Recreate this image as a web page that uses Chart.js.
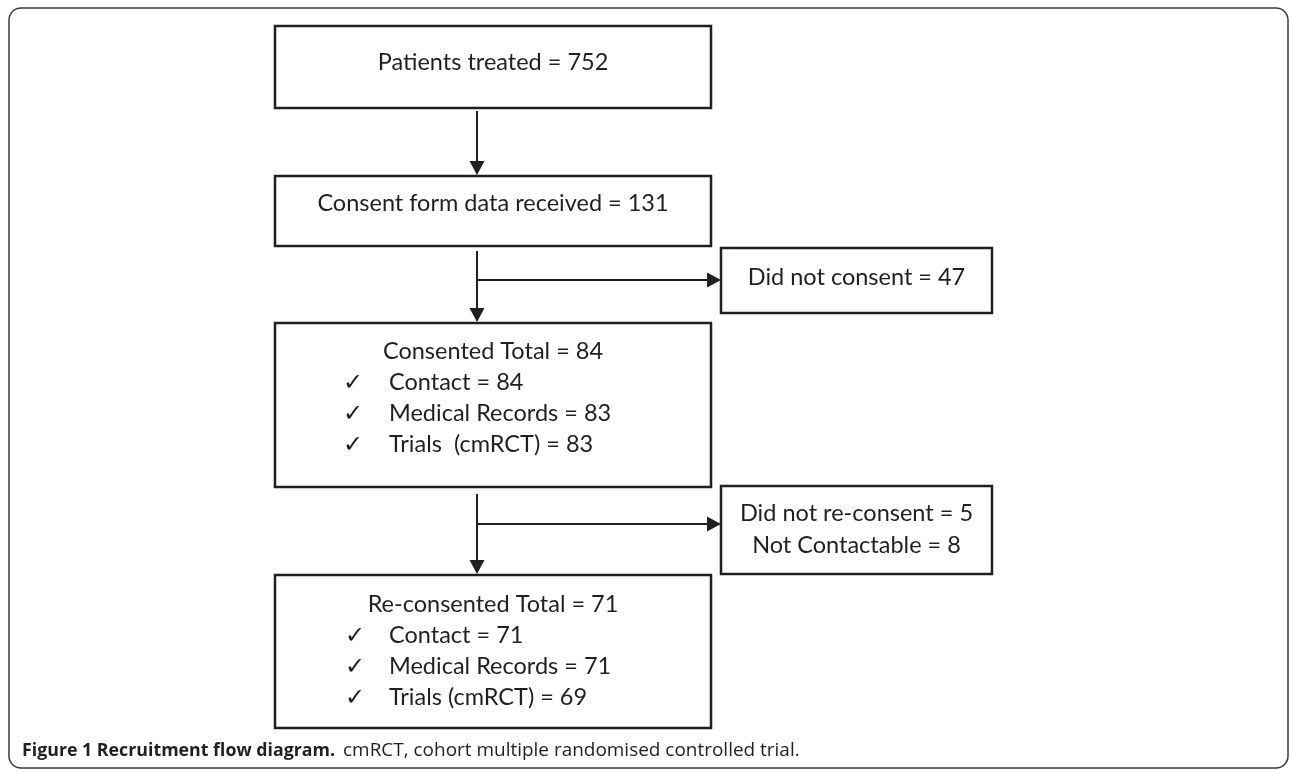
<!DOCTYPE html>
<html>
<head>
<meta charset="utf-8">
<script src="https://cdn.jsdelivr.net/npm/chart.js@4/dist/chart.umd.min.js"></script>
<style>
  html, body { margin: 0; padding: 0; background: #fff; }
  #wrap { position: relative; width: 1290px; height: 773px; overflow: hidden; }
  #flow { position: absolute; left: 0; top: 0; }
  .cap {
    position: absolute; top: 737px; line-height: 24px;
    font-family: 'Open Sans', 'Noto Sans', sans-serif;
    font-size: 18px; color: #231f20; white-space: nowrap;
    transform-origin: 0 50%;
  }
  #capBold { left: 22px; font-weight: bold; }
  #capText { left: 343px; }
</style>
</head>
<body>
<div id="wrap">
  <canvas id="flow" width="1290" height="773"></canvas>
  <div class="cap" id="capBold">Figure 1 Recruitment flow diagram.</div>
  <div class="cap" id="capText">cmRCT, cohort multiple randomised controlled trial.</div>
</div>
<script>
// ── DATA ──
const stageLabels = ['Patients treated', 'Consent form data received', 'Consented Total', 'Re-consented Total'];
const stageCounts = [752, 131, 84, 71];
const consentedItems = ['Contact', 'Medical Records', 'Trials  (cmRCT)'];
const consentedCounts = [84, 83, 83];
const reconsentedItems = ['Contact', 'Medical Records', 'Trials (cmRCT)'];
const reconsentedCounts = [71, 71, 69];
const dropLabels = [['Did not consent'], ['Did not re-consent', 'Not Contactable']];
const dropCounts = [[47], [5, 8]];

// ── LAYOUT (page units = pixels of the figure) ──
const INK = '#231f20';
const FONT = '23.5px Lato, "Open Sans", sans-serif';
const mainBoxes = [
  { x0: 275, y0: 26, x1: 711, y1: 108, titleY: 62 },
  { x0: 275, y0: 176, x1: 711, y1: 246, titleY: 203 },
  { x0: 275, y0: 323, x1: 711, y1: 487, titleY: 351, itemY: [382, 413, 444], checkX: 343, itemX: 389 },
  { x0: 275, y0: 575, x1: 711, y1: 728, titleY: 604, itemY: [635, 666, 697], checkX: 345, itemX: 389 }
];
const dropBoxes = [
  { x0: 721, y0: 248, x1: 992, y1: 313, lineY: [277] },
  { x0: 721, y0: 486, x1: 992, y1: 574, lineY: [513, 545] }
];
// connectors: [x0, y0, x1, y1], arrow at the end
const connectors = [
  [477, 111, 477, 175],
  [477, 251, 477, 322],
  [477, 280, 721, 280],
  [477, 494, 477, 574],
  [477, 524, 721, 524]
];

const boxText = [
  { title: `${stageLabels[0]} = ${stageCounts[0]}` },
  { title: `${stageLabels[1]} = ${stageCounts[1]}` },
  { title: `${stageLabels[2]} = ${stageCounts[2]}`, items: consentedItems.map((l, i) => `${l} = ${consentedCounts[i]}`) },
  { title: `${stageLabels[3]} = ${stageCounts[3]}`, items: reconsentedItems.map((l, i) => `${l} = ${reconsentedCounts[i]}`) }
];
const dropText = dropLabels.map((ls, i) => ls.map((l, j) => `${l} = ${dropCounts[i][j]}`));

// ── PLUGIN: frame, boxes, text, arrowheads ──
const flowPlugin = {
  id: 'flow',
  beforeDatasetsDraw(chart) {
    const { ctx, scales: { x, y } } = chart;
    const px = v => x.getPixelForValue(v), py = v => y.getPixelForValue(v);
    ctx.save();
    // outer rounded frame
    ctx.strokeStyle = '#3a3a3a';
    ctx.lineWidth = 1.5;
    ctx.beginPath();
    ctx.roundRect(px(9), py(8), px(1288) - px(9), py(768) - py(8), 12);
    ctx.stroke();

    ctx.strokeStyle = INK;
    ctx.lineWidth = 2.5;
    ctx.fillStyle = INK;
    ctx.font = FONT;
    ctx.textBaseline = 'middle';
    mainBoxes.forEach((b, i) => {
      ctx.strokeRect(px(b.x0), py(b.y0), px(b.x1) - px(b.x0), py(b.y1) - py(b.y0));
      const t = boxText[i];
      ctx.textAlign = 'center';
      ctx.fillText(t.title, px((b.x0 + b.x1) / 2), py(b.titleY));
      if (t.items) {
        t.items.forEach((s, k) => {
          ctx.textAlign = 'left';
          ctx.fillText('\u2713', px(b.checkX), py(b.itemY[k]));
          ctx.fillText(s, px(b.itemX), py(b.itemY[k]));
        });
      }
    });
    dropBoxes.forEach((b, i) => {
      ctx.strokeRect(px(b.x0), py(b.y0), px(b.x1) - px(b.x0), py(b.y1) - py(b.y0));
      ctx.textAlign = 'center';
      dropText[i].forEach((s, k) => ctx.fillText(s, px((b.x0 + b.x1) / 2), py(b.lineY[k])));
    });
    ctx.restore();
  },
  afterDatasetsDraw(chart) {
    const { ctx, scales: { x, y } } = chart;
    ctx.save();
    ctx.fillStyle = INK;
    connectors.forEach(c => {
      const tx = x.getPixelForValue(c[2]), ty = y.getPixelForValue(c[3]);
      const fx = x.getPixelForValue(c[0]), fy = y.getPixelForValue(c[1]);
      const a = Math.atan2(ty - fy, tx - fx);
      const len = 14, hw = 7.5;
      ctx.beginPath();
      ctx.moveTo(tx, ty);
      ctx.lineTo(tx - len * Math.cos(a) + hw * Math.sin(a), ty - len * Math.sin(a) - hw * Math.cos(a));
      ctx.lineTo(tx - len * Math.cos(a) - hw * Math.sin(a), ty - len * Math.sin(a) + hw * Math.cos(a));
      ctx.closePath();
      ctx.fill();
    });
    ctx.restore();
  }
};

// ── CHART ──
const ctx = document.getElementById('flow').getContext('2d');
new Chart(ctx, {
  type: 'scatter',
  data: {
    datasets: connectors.map(c => {
      const horiz = c[1] === c[3];
      return {
        data: [{ x: c[0], y: c[1] }, horiz ? { x: c[2] - 10, y: c[3] } : { x: c[2], y: c[3] - 10 }],
        showLine: true,
        borderColor: INK,
        borderWidth: 2,
        pointRadius: 0,
        clip: false
      };
    })
  },
  options: {
    responsive: false,
    devicePixelRatio: 1,
    animation: false,
    layout: { padding: 0 },
    events: [],
    plugins: { legend: { display: false }, tooltip: { enabled: false } },
    scales: {
      x: { type: 'linear', min: 0, max: 1290, display: false },
      y: { type: 'linear', min: 0, max: 773, reverse: true, display: false }
    }
  },
  plugins: [flowPlugin]
});

// squeeze the caption parts to the widths they have in the figure
[['capBold', 313], ['capText', 457]].forEach(([id, w]) => {
  const el = document.getElementById(id);
  el.style.transform = `scaleX(${w / el.scrollWidth})`;
});
</script>
</body>
</html>
